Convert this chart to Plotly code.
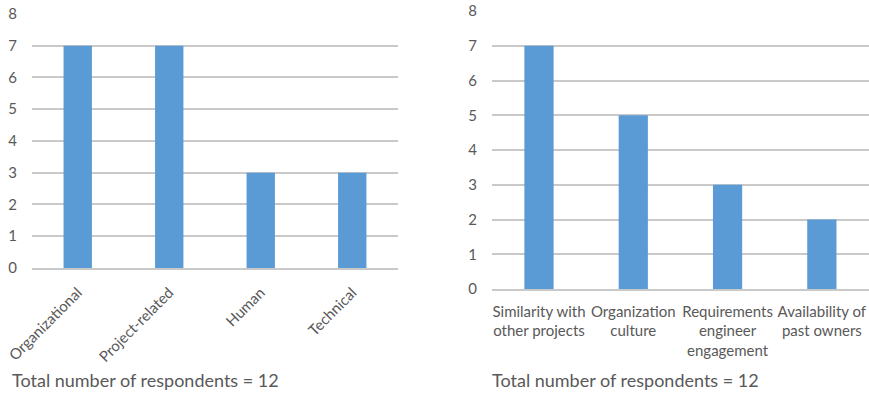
import plotly.graph_objects as go

left_categories = ["Organizational", "Project-related", "Human", "Technical"]
left_values = [7, 7, 3, 3]

right_categories = ["Similarity with<br>other projects", "Organization<br>culture",
                    "Requirements<br>engineer<br>engagement", "Availability of<br>past owners"]
right_values = [7, 5, 3, 2]

y_ticks = [0, 1, 2, 3, 4, 5, 6, 7, 8]
note_text = "Total number of respondents = 12"

BAR = "#5b9bd5"
GRID = "#c9c9c9"
TXT = "#595959"
FONT = "Lato"

fig = go.Figure()
fig.add_trace(go.Bar(x=left_categories, y=left_values, marker_color=BAR,
                     marker_line_width=0, xaxis="x", yaxis="y", showlegend=False))
fig.add_trace(go.Bar(x=right_categories, y=right_values, marker_color=BAR,
                     marker_line_width=0, xaxis="x2", yaxis="y2", showlegend=False))

yax = dict(range=[0, 8], tickvals=y_ticks, showgrid=True, gridcolor=GRID, gridwidth=2,
           zeroline=False, showline=False, ticks="outside", ticklen=11,
           tickcolor="rgba(0,0,0,0)", tickfont=dict(family=FONT, size=15, color=TXT),
           fixedrange=True, automargin=False)
xax = dict(showgrid=False, zeroline=False, showline=True, linecolor=GRID, linewidth=2,
           ticks="outside", ticklen=8, tickcolor="rgba(0,0,0,0)",
           tickfont=dict(family=FONT, size=15, color=TXT), automargin=False)

fig.update_layout(
    width=869, height=394,
    margin=dict(l=0, r=0, t=0, b=0),
    paper_bgcolor="white", plot_bgcolor="white",
    bargap=0.69,
    xaxis=dict(domain=[0.0368, 0.458], anchor="y", tickangle=-45, **xax),
    yaxis=dict(domain=[0.3198, 0.9645], anchor="x", **yax),
    xaxis2=dict(domain=[0.566, 1.0], anchor="y2", tickangle=0, **xax),
    yaxis2=dict(domain=[0.2665, 0.972], anchor="x2", **yax),
    annotations=[
        dict(text=note_text, xref="paper", yref="paper", x=10/869, y=(394-380)/394,
             xanchor="left", yanchor="middle", showarrow=False,
             font=dict(family=FONT, size=18, color=TXT)),
        dict(text=note_text, xref="paper", yref="paper", x=490/869, y=(394-380)/394,
             xanchor="left", yanchor="middle", showarrow=False,
             font=dict(family=FONT, size=18, color=TXT)),
    ],
)

fig.write_html("out.html")
